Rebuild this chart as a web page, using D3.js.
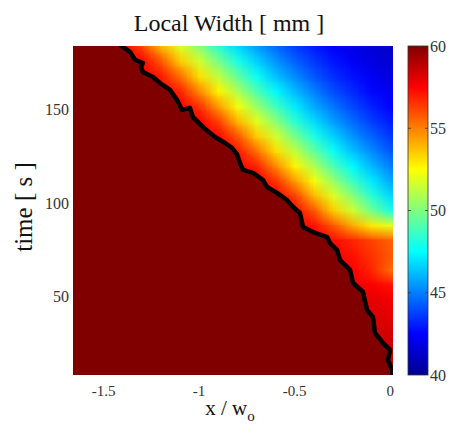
<!DOCTYPE html>
<html>
<head>
<meta charset="utf-8">
<script src="https://cdn.jsdelivr.net/npm/d3@7"></script>
<style>
  body { margin: 0; background: #fff; }
  text { font-family: "Liberation Serif", "Times New Roman", serif; }
</style>
</head>
<body>
<div id="chart"></div>
<script>
// grid of local width values [mm], rows = time, columns = x / w_o
var gridX = [-1.7, -1.6, -1.5, -1.4, -1.3, -1.2, -1.1, -1.0, -0.9, -0.8, -0.7, -0.6, -0.5, -0.4, -0.3, -0.2, -0.1, 0.0];
var gridTime = [184, 176, 168, 160, 152, 144, 136, 128, 120, 112, 104, 96, 88, 80, 72, 64, 56, 48, 40, 32, 24, 16, 8];
var localWidth = [
  [57.5,57.5,57.5,57.5,56.2,53.9,51.9,50.2,48.3,46.8,45.6,44.6,43.7,43.0,42.4,42.0,41.6,41.3],
  [57.5,57.5,57.5,57.5,57.3,55.8,53.5,51.6,49.8,48.0,46.6,45.4,44.4,43.6,42.9,42.3,41.9,41.5],
  [57.5,57.5,57.5,57.5,57.5,57.0,55.3,53.1,51.2,49.4,47.7,46.3,45.2,44.2,43.4,42.8,42.2,41.8],
  [57.5,57.5,57.5,57.5,57.5,57.5,56.8,54.8,52.7,50.9,49.0,47.4,46.1,45.0,44.0,43.3,42.6,42.2],
  [57.5,57.5,57.5,57.5,57.5,57.5,57.5,56.5,54.4,52.3,50.5,48.7,47.1,45.8,44.8,43.9,43.1,42.5],
  [57.5,57.5,57.5,57.5,57.5,57.5,57.5,57.5,56.2,53.9,51.9,50.2,48.3,46.8,45.6,44.6,43.7,43.0],
  [57.5,57.5,57.5,57.5,57.5,57.5,57.5,57.5,57.3,55.8,53.5,51.6,49.8,48.0,46.6,45.4,44.4,43.6],
  [57.5,57.5,57.5,57.5,57.5,57.5,57.5,57.5,57.5,57.0,55.3,53.1,51.2,49.4,47.7,46.3,45.2,44.2],
  [57.5,57.5,57.5,57.5,57.5,57.5,57.5,57.5,57.5,57.5,56.8,54.8,52.7,50.9,49.0,47.4,46.1,45.0],
  [57.5,57.5,57.5,57.5,57.5,57.5,57.5,57.5,57.5,57.5,57.5,56.5,54.4,52.3,50.5,48.7,47.1,45.8],
  [57.5,57.5,57.5,57.5,57.5,57.5,57.5,57.5,57.5,57.5,57.5,57.5,56.2,53.9,51.9,50.2,48.3,46.8],
  [57.5,57.5,57.5,57.5,57.5,57.5,57.5,57.5,57.5,57.5,57.5,57.5,57.3,55.8,53.5,51.6,49.8,48.0],
  [57.5,57.5,57.5,57.5,57.5,57.5,57.5,57.5,57.5,57.5,57.5,57.5,57.5,57.2,55.8,54.2,52.9,52.0],
  [57.5,57.5,57.5,57.5,57.5,57.5,57.5,57.5,57.5,57.5,57.5,57.5,57.5,57.5,57.3,56.8,56.2,55.6],
  [57.5,57.5,57.5,57.5,57.5,57.5,57.5,57.5,57.5,57.5,57.5,57.5,57.5,57.5,57.5,57.2,56.5,55.8],
  [57.5,57.5,57.5,57.5,57.5,57.5,57.5,57.5,57.5,57.5,57.5,57.5,57.5,57.5,57.5,57.5,56.8,55.4],
  [57.8,57.8,57.8,57.8,57.8,57.8,57.8,57.8,57.8,57.8,57.8,57.8,57.8,57.8,57.8,57.8,57.6,57.2],
  [58.0,58.0,58.0,58.0,58.0,58.0,58.0,58.0,58.0,58.0,58.0,58.0,58.0,58.0,58.0,58.0,58.0,57.8],
  [58.2,58.2,58.2,58.2,58.2,58.2,58.2,58.2,58.2,58.2,58.2,58.2,58.2,58.2,58.2,58.2,58.2,58.0],
  [58.4,58.4,58.4,58.4,58.4,58.4,58.4,58.4,58.4,58.4,58.4,58.4,58.4,58.4,58.4,58.4,58.4,58.3],
  [58.5,58.5,58.5,58.5,58.5,58.5,58.5,58.5,58.5,58.5,58.5,58.5,58.5,58.5,58.5,58.5,58.5,58.5],
  [58.6,58.6,58.6,58.6,58.6,58.6,58.6,58.6,58.6,58.6,58.6,58.6,58.6,58.6,58.6,58.6,58.6,58.6],
  [58.7,58.7,58.7,58.7,58.7,58.7,58.7,58.7,58.7,58.7,58.7,58.7,58.7,58.7,58.7,58.7,58.7,58.7]
];

// front position (black line); everything left of it is at full width (60 mm)
var frontX = [-1.414,-1.362,-1.335,-1.294,-1.304,-1.294,-1.241,-1.205,-1.152,-1.116,-1.089,-1.048,-1.032,-0.980,
  -0.917,-0.864,-0.828,-0.802,-0.786,-0.770,-0.718,-0.665,-0.645,-0.592,-0.540,-0.508,-0.472,-0.456,-0.404,
  -0.330,-0.315,-0.278,-0.262,-0.210,-0.194,-0.142,-0.121,-0.090,-0.079,-0.037,0.000,-0.011,0.010,0.015];
var frontTime = [184.6,180.9,176.6,174.9,172.8,170.1,167.4,164.2,160.5,155.2,149.8,150.9,146.0,140.7,
  135.3,132.1,129.5,126.2,121.4,117.7,116.1,112.3,108.6,105.4,101.6,97.9,94.7,87.2,84.5,
  81.8,78.6,74.9,69.5,64.2,57.2,52.4,42.8,39.0,30.5,25.1,21.4,16.0,10.7,7.0];
var fullWidth = 60;

var xTicks = [-1.5, -1, -0.5, 0];
var yTicks = [50, 100, 150];
var cbarTicks = [40, 45, 50, 55, 60];

var width = 466, height = 436;
var svg = d3.select('#chart').append('svg')
            .attr('width', width)
            .attr('height', height);

var x = d3.scaleLinear().domain([-1.66, 0.015]).range([73, 393]);
var y = d3.scaleLinear().domain([8, 184]).range([375, 46]);

// MATLAB jet colormap
var jet = d3.scaleLinear()
            .domain([40, 42.5, 47.5, 52.5, 57.5, 60])
            .range(['#00008f', '#0000ff', '#00ffff', '#ffff00', '#ff0000', '#800000'])
            .clamp(true);

var defs = svg.append('defs');
defs.append('clipPath').attr('id', 'plot-clip')
    .append('rect')
    .attr('x', x.range()[0]).attr('y', y.range()[1])
    .attr('width', x.range()[1] - x.range()[0])
    .attr('height', y.range()[0] - y.range()[1]);

// paint the grid into a tiny canvas, the browser smooths it when scaled up
var nx = gridX.length, ny = gridTime.length;
var canvas = document.createElement('canvas');
canvas.width = nx; canvas.height = ny;
var ctx = canvas.getContext('2d');
var img = ctx.createImageData(nx, ny);
localWidth.forEach(function(row, j) {
  row.forEach(function(v, i) {
    var c = d3.rgb(jet(v));
    var k = (j * nx + i) * 4;
    img.data[k] = c.r; img.data[k + 1] = c.g; img.data[k + 2] = c.b; img.data[k + 3] = 255;
  });
});
ctx.putImageData(img, 0, 0);

var dx = gridX[1] - gridX[0];
var dt = gridTime[0] - gridTime[1];
var plot = svg.append('g').attr('clip-path', 'url(#plot-clip)');

plot.append('image')
    .attr('href', canvas.toDataURL())
    .attr('x', x(gridX[0] - dx / 2))
    .attr('y', y(gridTime[0] + dt / 2))
    .attr('width', x(gridX[nx - 1] + dx / 2) - x(gridX[0] - dx / 2))
    .attr('height', y(gridTime[ny - 1] - dt / 2) - y(gridTime[0] + dt / 2))
    .attr('preserveAspectRatio', 'none');

var front = frontX.map(function(d, i) { return [d, frontTime[i]]; });
var line = d3.line().x(function(d) { return x(d[0]); }).y(function(d) { return y(d[1]); });

// region behind the front (full width)
var behind = front.concat([[-2, frontTime[frontTime.length - 1]], [-2, frontTime[0]]]);
plot.append('path')
    .attr('d', line(behind) + 'Z')
    .attr('fill', jet(fullWidth));

plot.append('path')
    .attr('d', line(front))
    .attr('fill', 'none')
    .attr('stroke', '#000')
    .attr('stroke-width', 4.5)
    .attr('stroke-linejoin', 'round');

// tick labels
svg.selectAll('.xtick').data(xTicks).enter().append('text')
   .attr('x', function(d) { return x(d); })
   .attr('y', 396)
   .attr('text-anchor', 'middle')
   .attr('font-size', 15)
   .attr('fill', '#333')
   .text(function(d) { return d; });

svg.selectAll('.ytick').data(yTicks).enter().append('text')
   .attr('x', 69)
   .attr('y', function(d) { return y(d) + 5.5; })
   .attr('text-anchor', 'end')
   .attr('font-size', 16)
   .attr('fill', '#333')
   .text(function(d) { return d; });

// titles
svg.append('text')
   .attr('x', 229).attr('y', 31)
   .attr('text-anchor', 'middle')
   .attr('font-size', 24)
   .attr('fill', '#111')
   .text('Local Width [ mm ]');

var xl = svg.append('text')
   .attr('x', 230).attr('y', 415)
   .attr('text-anchor', 'middle')
   .attr('font-size', 21)
   .attr('fill', '#111');
xl.append('tspan').text('x / w');
xl.append('tspan').attr('font-size', 15).attr('dy', 6).text('o');

svg.append('text')
   .attr('transform', 'translate(32,207) rotate(-90)')
   .attr('text-anchor', 'middle')
   .attr('font-size', 25)
   .attr('fill', '#111')
   .text('time [ s ]');

// colorbar
var cb = d3.scaleLinear().domain([40, 60]).range([375, 46]);
var grad = defs.append('linearGradient')
               .attr('id', 'jet-grad')
               .attr('x1', '0%').attr('y1', '100%')
               .attr('x2', '0%').attr('y2', '0%');
jet.domain().forEach(function(v) {
  grad.append('stop')
      .attr('offset', ((v - 40) / 20 * 100) + '%')
      .attr('stop-color', jet(v));
});

svg.append('rect')
   .attr('x', 408).attr('y', cb(60))
   .attr('width', 20).attr('height', cb(40) - cb(60))
   .attr('fill', 'url(#jet-grad)')
   .attr('stroke', '#333')
   .attr('stroke-width', 0.8);

svg.selectAll('.cbtick').data(cbarTicks.slice(1, -1)).enter().append('path')
   .attr('d', function(d) { return 'M408,' + cb(d) + 'h3M428,' + cb(d) + 'h-3'; })
   .attr('stroke', '#333')
   .attr('stroke-width', 0.8);

svg.selectAll('.cblabel').data(cbarTicks).enter().append('text')
   .attr('x', 430)
   .attr('y', function(d) { return cb(d) + 5.5; })
   .attr('font-size', 16)
   .attr('fill', '#333')
   .text(function(d) { return d; });
</script>
</body>
</html>
